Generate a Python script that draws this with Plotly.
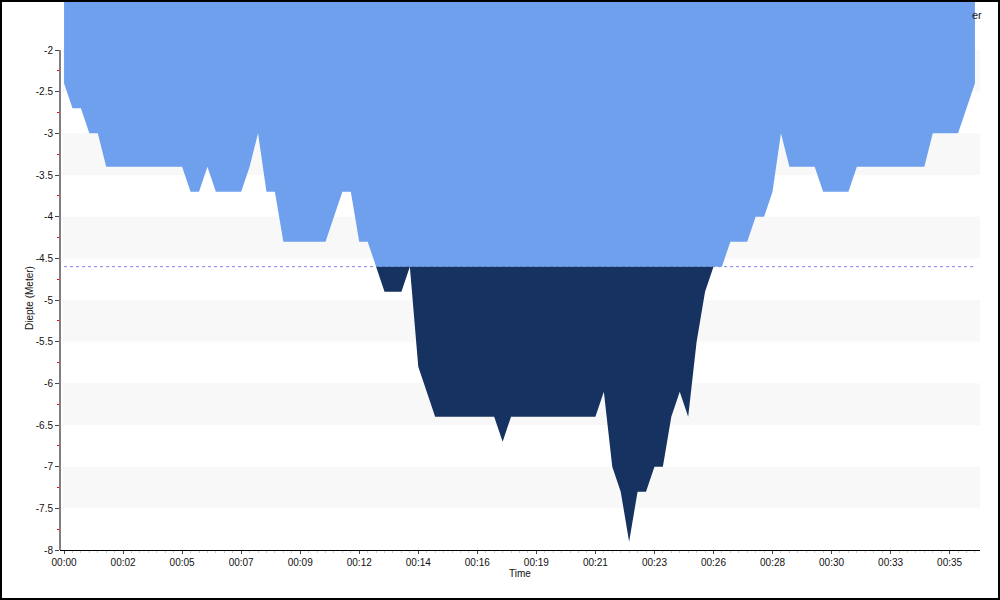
import plotly.graph_objects as go

# ---- data -------------------------------------------------------------
SAMPLE_SECONDS = 20
depth = [
    -2.4, -2.7, -2.7, -3.0, -3.0, -3.4, -3.4, -3.4, -3.4, -3.4,
    -3.4, -3.4, -3.4, -3.4, -3.4, -3.7, -3.7, -3.4, -3.7, -3.7,
    -3.7, -3.7, -3.4, -3.0, -3.7, -3.7, -4.3, -4.3, -4.3, -4.3,
    -4.3, -4.3, -4.0, -3.7, -3.7, -4.3, -4.3, -4.6, -4.9, -4.9,
    -4.9, -4.6, -5.8, -6.1, -6.4, -6.4, -6.4, -6.4, -6.4, -6.4,
    -6.4, -6.4, -6.7, -6.4, -6.4, -6.4, -6.4, -6.4, -6.4, -6.4,
    -6.4, -6.4, -6.4, -6.4, -6.1, -7.0, -7.3, -7.9, -7.3, -7.3,
    -7.0, -7.0, -6.4, -6.1, -6.4, -5.5, -4.9, -4.6, -4.6, -4.3,
    -4.3, -4.3, -4.0, -4.0, -3.7, -3.0, -3.4, -3.4, -3.4, -3.4,
    -3.7, -3.7, -3.7, -3.7, -3.4, -3.4, -3.4, -3.4, -3.4, -3.4,
    -3.4, -3.4, -3.4, -3.0, -3.0, -3.0, -3.0, -2.7, -2.4,
]
threshold = -4.6
tick_step_min = 7 / 3
tick_count = 16
tick_labels = ["00:%02d" % round(k * tick_step_min) for k in range(tick_count)]
y_ticks = [-8, -7.5, -7, -6.5, -6, -5.5, -5, -4.5, -4, -3.5, -3, -2.5, -2]
y_tick_labels = ["-8", "-7.5", "-7", "-6.5", "-6", "-5.5", "-5", "-4.5", "-4",
                 "-3.5", "-3", "-2.5", "-2"]
band_edges = [(-2.0, -2.5), (-3.0, -3.5), (-4.0, -4.5), (-5.0, -5.5), (-6.0, -6.5), (-7.0, -7.5)]
y_title = "Diepte (Meter)"
x_title = "Time"

# ---- derived ----------------------------------------------------------
t = [i * SAMPLE_SECONDS / 60 for i in range(len(depth))]
top_level = -1.0
light_y = [max(d, threshold) for d in depth]
dark_y = [min(d, threshold) for d in depth]
y_minor = [(a + b) / 2 for a, b in zip(y_ticks[:-1], y_ticks[1:])]

LIGHT = "#6EA0EE"
DARK = "#163260"
FONT = "Liberation Sans"

fig = go.Figure()

fig.add_trace(go.Scatter(x=[t[0], t[-1]], y=[threshold, threshold], mode="lines",
                         line=dict(color="#8080F0", width=1, dash="dot"),
                         hoverinfo="skip", showlegend=False))
fig.add_trace(go.Scatter(x=t, y=[top_level] * len(t), mode="lines",
                         line=dict(width=0), hoverinfo="skip", showlegend=False))
fig.add_trace(go.Scatter(x=t, y=light_y, mode="lines", fill="tonexty",
                         fillcolor=LIGHT, line=dict(width=0, color=LIGHT),
                         showlegend=False))
fig.add_trace(go.Scatter(x=t, y=[threshold] * len(t), mode="lines",
                         line=dict(width=0), hoverinfo="skip", showlegend=False))
fig.add_trace(go.Scatter(x=t, y=dark_y, mode="lines", fill="tonexty",
                         fillcolor=DARK, line=dict(width=0, color=DARK),
                         showlegend=False))

shapes = []
for y0, y1 in band_edges:
    shapes.append(dict(type="rect", xref="paper", yref="y", x0=0.003, x1=1,
                       y0=y0, y1=y1, fillcolor="#F8F8F8", line=dict(width=0),
                       layer="below"))
W, H = 1000, 600
ml, mr, mt, mb = 60, 20, 0, 50
pw, ph = W - ml - mr, H - mt - mb
shapes.append(dict(type="line", xref="paper", yref="y", x0=0, x1=0,
                   y0=y_ticks[0], y1=y_ticks[-1],
                   line=dict(color="black", width=1), layer="above"))
shapes.append(dict(type="rect", xref="paper", yref="paper",
                   x0=(1 - ml) / pw, x1=(W - 1 - ml) / pw,
                   y0=(1 - mb) / ph, y1=(H - 1 - mb) / ph,
                   line=dict(color="black", width=2), fillcolor="rgba(0,0,0,0)",
                   layer="above"))

fig.update_layout(
    width=W, height=H,
    margin=dict(l=ml, r=mr, t=mt, b=mb),
    paper_bgcolor="white", plot_bgcolor="white",
    font=dict(family=FONT, size=10, color="#111"),
    shapes=shapes,
    showlegend=False,
    annotations=[
        dict(text="er", xref="paper", yref="paper",
             x=(984 - ml) / pw, y=(H - 15 - mb) / ph,
             xanchor="right", yanchor="middle", showarrow=False,
             font=dict(family=FONT, size=11, color="#222")),
        dict(text=y_title, xref="paper", yref="paper",
             x=(30 - ml) / pw, y=(H - 298 - mb) / ph, textangle=-90,
             xanchor="center", yanchor="middle", showarrow=False,
             font=dict(family=FONT, size=10, color="#111")),
    ],
)
fig.update_xaxes(
    range=[-0.16, 36.2],
    tickmode="array",
    tickvals=[k * tick_step_min for k in range(tick_count)],
    ticktext=tick_labels,
    ticks="outside", ticklen=3, tickcolor="#444",
    showline=True, linecolor="black", linewidth=1,
    showgrid=False, zeroline=False,
    title=dict(text=x_title, standoff=0, font=dict(size=10)),
    minor=dict(dtick=SAMPLE_SECONDS / 60, ticks="outside", ticklen=2,
               tickcolor="#CCCCCC", showgrid=False),
    automargin=False,
)
fig.update_yaxes(
    range=[-8, -1.4],
    tickmode="array", tickvals=y_ticks, ticktext=y_tick_labels,
    ticks="outside", ticklen=4, tickcolor="#444",
    showline=False,
    showgrid=False, zeroline=False,
    minor=dict(tickmode="array", tickvals=y_minor, ticks="outside", ticklen=2,
               tickcolor="red", showgrid=False),
    automargin=False,
)

fig.write_html("out.html",
               config={"displayModeBar": False},
               post_script="document.body.style.margin='0';"
                           "document.body.style.overflow='hidden';")
